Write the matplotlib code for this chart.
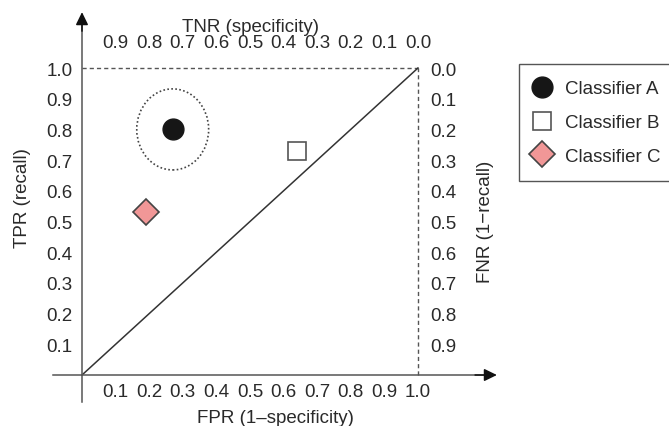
import matplotlib
matplotlib.use("Agg")
import matplotlib.pyplot as plt
from matplotlib.patches import Ellipse

plt.rcParams['font.family'] = ['Liberation Sans', 'DejaVu Sans']
plt.rcParams['font.size'] = 13.5

# Classifier operating points in ROC space (FPR, TPR)
classifiers = ["Classifier A", "Classifier B", "Classifier C"]
fpr = [0.27, 0.64, 0.19]
tpr = [0.80, 0.73, 0.53]

# Tick values for the four scales
fpr_ticks = [0.1, 0.2, 0.3, 0.4, 0.5, 0.6, 0.7, 0.8, 0.9, 1.0]
tpr_ticks = [0.1, 0.2, 0.3, 0.4, 0.5, 0.6, 0.7, 0.8, 0.9, 1.0]
tnr_ticks = [0.9, 0.8, 0.7, 0.6, 0.5, 0.4, 0.3, 0.2, 0.1, 0.0]
fnr_ticks = [0.0, 0.1, 0.2, 0.3, 0.4, 0.5, 0.6, 0.7, 0.8, 0.9]

text_c = "#2a2a2a"
axis_c = "#555555"
fs = 13.5

fig = plt.figure(figsize=(6.69, 4.27), dpi=100)
ax = fig.add_axes([40 / 669, 17 / 427, 470 / 669, 402 / 427])
xlim = (-0.125, 1.274)
ylim = (-0.1107, 1.1987)
ax.set_xlim(*xlim)
ax.set_ylim(*ylim)

# Axes drawn through the origin with arrow heads
for s in ("top", "right"):
    ax.spines[s].set_visible(False)
ax.spines["left"].set_position(("data", 0))
ax.spines["bottom"].set_position(("data", 0))
ax.spines["left"].set_bounds(-0.088, 1.15)
ax.spines["bottom"].set_bounds(-0.086, 1.20)
for s in ("left", "bottom"):
    ax.spines[s].set_color(axis_c)
    ax.spines[s].set_linewidth(1.1)
arrow = dict(arrowstyle="-|>,head_length=0.45,head_width=0.22", color="#111111",
             lw=1.1, mutation_scale=17, shrinkA=0, shrinkB=0)
ax.annotate("", xy=(0, 1.182), xytext=(0, 1.12), arrowprops=arrow, annotation_clip=False)
ax.annotate("", xy=(1.235, 0), xytext=(1.17, 0), arrowprops=arrow, annotation_clip=False)

# Perfect-classifier corner and chance diagonal
ax.plot([0, 1], [1, 1], color=axis_c, lw=1.0, dashes=(3, 2.2))
ax.plot([1, 1], [0, 1], color=axis_c, lw=1.0, dashes=(3, 2.2))
ax.plot([0, 1], [0, 1], color="#333333", lw=1.1)

# Highlight around the best classifier
ax.add_patch(Ellipse((fpr[0], tpr[0]), width=0.214, height=0.264, fill=False,
                     edgecolor="#444444", lw=1.2, linestyle=(0, (1, 1.4))))

styles = [
    dict(marker="o", markersize=15, markerfacecolor="#161616", markeredgecolor="#161616"),
    dict(marker="s", markersize=13.5, markerfacecolor="white", markeredgecolor="#555555",
         markeredgewidth=1.2),
    dict(marker="D", markersize=13, markerfacecolor="#f19797", markeredgecolor="#444444",
         markeredgewidth=1.2),
]
handles = []
for name, x, y, st in zip(classifiers, fpr, tpr, styles):
    h, = ax.plot([x], [y], linestyle="none", label=name, **st)
    handles.append(h)

# Primary scales: FPR (bottom) and TPR (left)
ax.set_xticks(fpr_ticks)
ax.set_xticklabels([f"{v:.1f}" for v in fpr_ticks])
ax.set_yticks(tpr_ticks)
ax.set_yticklabels([f"{v:.1f}" for v in tpr_ticks])
ax.tick_params(axis="x", length=0, pad=6, colors=text_c, labelsize=fs)
ax.tick_params(axis="y", length=0, pad=7, colors=text_c, labelsize=fs)
ax.set_xlabel("FPR (1\u2013specificity)", color=text_c, fontsize=fs, labelpad=6.3)
ax.set_ylabel("TPR (recall)", color=text_c, fontsize=fs, labelpad=11)
ax.yaxis.label.set_y(0.527)

# Complementary scales: TNR (top) and FNR (right)
flip = (lambda v: 1 - v, lambda v: 1 - v)
top_loc = (1.0 - ylim[0]) / (ylim[1] - ylim[0])
right_loc = (1.0 - xlim[0]) / (xlim[1] - xlim[0])
sec_top = ax.secondary_xaxis(top_loc, functions=flip)
sec_top.set_xticks(tnr_ticks)
sec_top.set_xticklabels([f"{v:.1f}" for v in tnr_ticks])
sec_top.tick_params(axis="x", length=0, pad=12, colors=text_c, labelsize=fs)
sec_top.set_xlabel("TNR (specificity)", color=text_c, fontsize=fs, labelpad=2.2)
sec_top.xaxis.label.set_x(0.447)
sec_right = ax.secondary_yaxis(right_loc, functions=flip)
sec_right.set_yticks(fnr_ticks)
sec_right.set_yticklabels([f"{v:.1f}" for v in fnr_ticks])
sec_right.tick_params(axis="y", length=0, pad=8.5, colors=text_c, labelsize=fs)
sec_right.set_ylabel("FNR (1\u2212recall)", color=text_c, fontsize=fs, labelpad=15)
sec_right.yaxis.label.set_y(0.468)
for sec in (sec_top, sec_right):
    for sp in sec.spines.values():
        sp.set_visible(False)

leg = fig.legend(handles=handles, loc="upper left", bbox_to_anchor=(519 / 669, 1 - 65 / 427),
                 frameon=True, fancybox=False, framealpha=1, edgecolor=axis_c,
                 borderpad=0.87, handlelength=0.72, handletextpad=0.86, labelspacing=0.88,
                 fontsize=fs, borderaxespad=0)
leg.get_frame().set_linewidth(1.0)
for t in leg.get_texts():
    t.set_color(text_c)

fig.savefig("out.png", dpi=100)
